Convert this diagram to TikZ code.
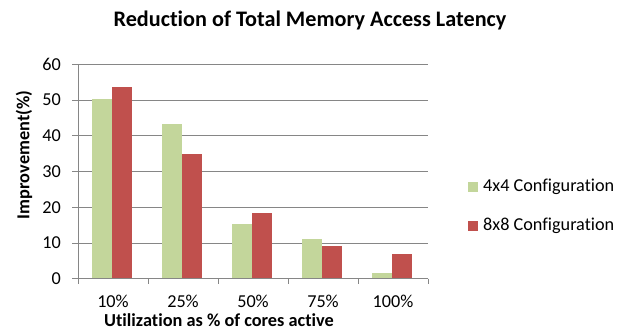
\documentclass[tikz,border=0pt]{standalone}
\usepackage{fontspec}
\setmainfont{Carlito}[Ligatures={NoCommon}]
\definecolor{barA}{HTML}{C3D69B}
\definecolor{barB}{HTML}{C0504D}
\definecolor{gridc}{HTML}{868686}
\tikzset{
  gridline/.style={draw=gridc, line width=0.9pt},
  axisline/.style={draw=gridc, line width=0.9pt},
  ticklbl/.style={font=\fontsize{18.2}{20}\selectfont, inner sep=0pt},
  boldlbl/.style={font=\bfseries\fontsize{18.3}{20}\selectfont, inner sep=0pt}
}
\begin{document}
\begin{tikzpicture}[x=1pt, y=-1pt]
\useasboundingbox[fill=white] (0,0) rectangle (629,331);
% value -> vertical position
\def\vy#1{278.7-(#1)*3.573}
% gridlines and y tick labels
\foreach \v in {10,20,30,40,50,60} {
  \draw[gridline] (78,{\vy{\v}}) -- (428,{\vy{\v}});
}
\foreach \v in {0,10,20,30,40,50,60} {
  \draw[axisline] (72,{\vy{\v}}) -- (78,{\vy{\v}});
  \node[ticklbl, anchor=east] (yl\v) at (61,{\vy{\v}}) {\v};
}
% bars: 4x4 and 8x8 per category
\foreach \i/\a/\b in {0/50.2/53.6, 1/43.4/35.0, 2/15.3/18.3, 3/11.2/9.2, 4/1.6/6.8} {
  \fill[barA] ({92+70*\i},{\vy{\a}}) rectangle ({112+70*\i},278.7);
  \fill[barB] ({112+70*\i},{\vy{\b}}) rectangle ({132+70*\i},278.7);
}
% axes
\draw[axisline] (78,64.3) -- (78,278.7);
\draw[axisline] (78,278.7) -- (428,278.7);
\foreach \i in {0,...,5} {
  \draw[axisline] ({78+70*\i},278.7) -- ({78+70*\i},284);
}
% category labels
\foreach \i/\t in {0/10\%, 1/25\%, 2/50\%, 3/75\%, 4/100\%} {
  \node[ticklbl, anchor=base] (xl\i) at ({113+70*\i},307.3) {\t};
}
% titles
\node[font=\bfseries\fontsize{22.2}{24}\selectfont, inner sep=0pt, anchor=base] (title) at (310,27) {Reduction of Total Memory Access Latency};
\node[boldlbl, anchor=base] (xtitle) at (219,326.5) {Utilization as \% of cores active};
\node[boldlbl, rotate=90] (ytitle) at (24,155) {Improvement(\%)};
% legend
\fill[barA] (468,182) rectangle (478,192);
\node[ticklbl, anchor=west] (legA) at (483,187) {4x4 Configuration};
\fill[barB] (468,221) rectangle (478,231);
\node[ticklbl, anchor=west] (legB) at (483,226) {8x8 Configuration};
\end{tikzpicture}
\end{document}
